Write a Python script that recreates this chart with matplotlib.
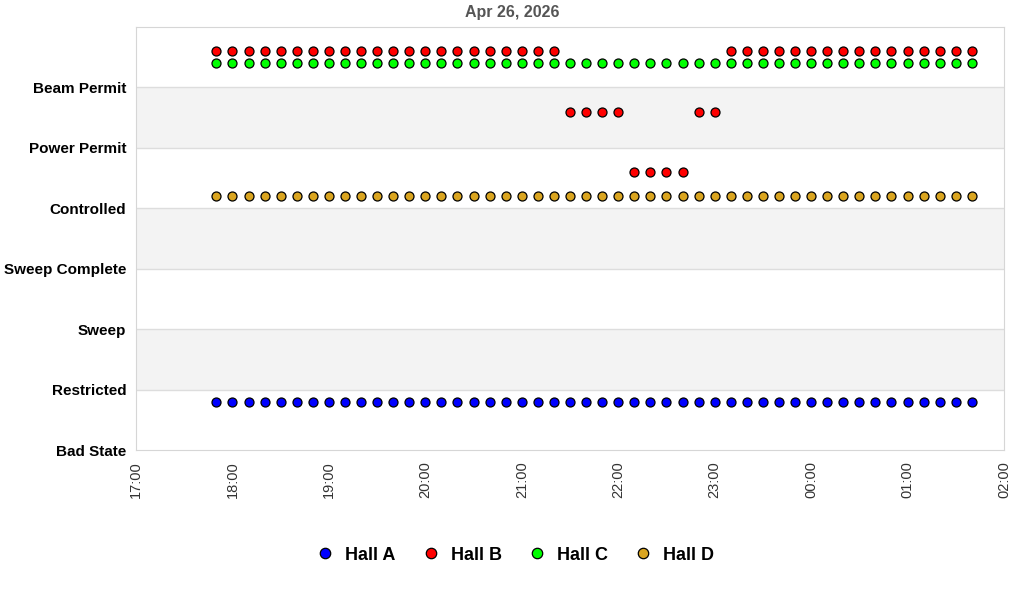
import matplotlib
matplotlib.use("Agg")
import matplotlib.pyplot as plt
import matplotlib.dates as mdates
from matplotlib.lines import Line2D
import pandas as pd

states = ["Bad State", "Restricted", "Sweep", "Sweep Complete", "Controlled", "Power Permit", "Beam Permit"]
times = pd.date_range("2026-04-26 17:50", "2026-04-27 01:40", freq="10min")

hall_a = ["Restricted"] * 48
hall_b = (["Beam Permit"] * 22 + ["Power Permit"] * 4 + ["Controlled"] * 4
          + ["Power Permit"] * 2 + ["Beam Permit"] * 16)
hall_c = ["Beam Permit"] * 48
hall_d = ["Controlled"] * 48

series_names = ["Hall A", "Hall B", "Hall C", "Hall D"]
series_vals = [hall_a, hall_b, hall_c, hall_d]
colors = ["#0000ff", "#ff0000", "#00ff00", "#daa520"]
offsets = [-0.2, 0.6, 0.4, 0.2]

plt.rcParams['font.family'] = ['Liberation Sans', 'DejaVu Sans']
fig = plt.figure(figsize=(10.24, 6), dpi=100)
ax = fig.add_axes([136/1024, 1-450/600, (1004-136)/1024, (450-27)/600])

xmin = pd.Timestamp("2026-04-26 17:00")
xmax = pd.Timestamp("2026-04-27 02:00")

for lo in (1, 3, 5):
    ax.axhspan(lo, lo + 1, color="#f3f3f3", zorder=0, lw=0)
for y in range(1, 7):
    ax.axhline(y, color="#dddddd", lw=1, zorder=0.5)

idx = {s: i for i, s in enumerate(states)}
for name, vals, c, off in zip(series_names, series_vals, colors, offsets):
    ys = [idx[v] + off for v in vals]
    ax.scatter(times, ys, s=42, c=c, edgecolors="black", linewidths=0.9, zorder=3)

ax.set_xlim(xmin, xmax)
ax.set_ylim(0, 7)
ax.set_yticks(range(7))
ax.set_yticklabels(states, fontsize=11, fontweight="bold", color="black")
ax.xaxis.set_major_locator(mdates.HourLocator())
ax.xaxis.set_major_formatter(mdates.DateFormatter("%H:%M"))
for lbl in ax.get_xticklabels():
    lbl.set_rotation(90)
ax.tick_params(axis="x", labelsize=10.5, labelcolor="#333333", length=0, pad=8)
ax.tick_params(axis="y", length=0, pad=7)
for sp in ax.spines.values():
    sp.set_color("#d6d6d6")

fig.text(512/1024, 1-12/600, "Apr 26, 2026", ha="center", va="center",
         fontsize=11.5, fontweight="bold", color="#555555")

handles = [Line2D([], [], marker="o", ls="", markersize=7.5, markerfacecolor=c,
                  markeredgecolor="black", markeredgewidth=0.9) for c in colors]
fig.legend(handles, series_names, loc="center", bbox_to_anchor=(515/1024, 1-555/600),
           ncol=4, frameon=False, prop={"weight": "bold", "size": 13},
           handletextpad=0.6, columnspacing=1.45, handlelength=1.0)

fig.savefig("out.png", dpi=100)
